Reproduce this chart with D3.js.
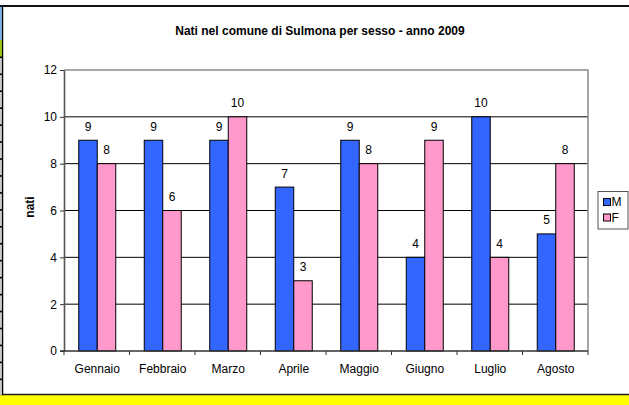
<!DOCTYPE html>
<html>
<head>
<meta charset="utf-8">
<script src="https://cdn.jsdelivr.net/npm/d3@7"></script>
<style>
  html, body { margin: 0; padding: 0; background: #fff; }
  svg { display: block; font-family: "Liberation Sans", Arial, sans-serif; }
</style>
</head>
<body>
<svg id="chart" width="629" height="405"></svg>
<script>
// Births in Sulmona by sex, 2009
const months = ["Gennaio", "Febbraio", "Marzo", "Aprile", "Maggio", "Giugno", "Luglio", "Agosto"];
const maschi = [9, 9, 9, 7, 9, 4, 10, 5];
const femmine = [8, 6, 10, 3, 8, 9, 4, 8];
const seriesNames = ["M", "F"];
const seriesColors = ["#3366ff", "#ff99cc"];
const yTicks = [0, 2, 4, 6, 8, 10, 12];
const titleText = "Nati nel comune di Sulmona per sesso - anno 2009";
const yLabel = "nati";

const svg = d3.select("#chart");
const W = 629, H = 405;

// worksheet frame around the chart object
svg.append("rect").attr("x", 0).attr("y", 0).attr("width", W).attr("height", H).attr("fill", "#fff");
svg.append("rect").attr("x", 0).attr("y", 395).attr("width", W).attr("height", 10).attr("fill", "#ffff00");
svg.append("line").attr("x1", 0).attr("x2", W).attr("y1", 394.5).attr("y2", 394.5)
  .attr("stroke", "#222").attr("stroke-width", 1.5);
svg.append("line").attr("x1", 0).attr("x2", W).attr("y1", 6).attr("y2", 6)
  .attr("stroke", "#111").attr("stroke-width", 2);
svg.append("rect").attr("x", 0).attr("y", 7).attr("width", 2).attr("height", 388).attr("fill", "#c8c8c8");
svg.append("rect").attr("x", 0).attr("y", 7).attr("width", 2).attr("height", 33).attr("fill", "#7fb3e6");
svg.append("rect").attr("x", 0).attr("y", 40).attr("width", 2).attr("height", 17).attr("fill", "#9cc312");
d3.range(20).forEach(i => {
  svg.append("rect").attr("x", 0).attr("y", 56.5 + i * 16.95).attr("width", 2).attr("height", 1.6).attr("fill", "#000");
});
svg.append("line").attr("x1", 2.6).attr("x2", 2.6).attr("y1", 6).attr("y2", 395)
  .attr("stroke", "#000").attr("stroke-width", 1.3);

// plot area
const plot = { left: 64, right: 588, top: 70, bottom: 351 };

const x0 = d3.scaleBand().domain(months).range([plot.left, plot.right]).paddingInner(0.435).paddingOuter(0.2175);
const x1 = d3.scaleBand().domain(seriesNames).range([0, x0.bandwidth()]);
const y = d3.scaleLinear().domain([0, 12]).range([plot.bottom, plot.top]);

// horizontal gridlines
svg.append("g").selectAll("line").data(yTicks.filter(t => t > 0 && t < 12)).join("line")
  .attr("x1", plot.left).attr("x2", plot.right)
  .attr("y1", d => y(d)).attr("y2", d => y(d))
  .attr("stroke", "#000").attr("stroke-width", 1);

// plot border (top and right)
svg.append("path")
  .attr("d", `M${plot.left},${y(12)}H${plot.right}V${plot.bottom}`)
  .attr("fill", "none").attr("stroke", "#8a8a8a").attr("stroke-width", 1.5);

// bars
const rows = months.map((m, i) => ({ month: m, values: [maschi[i], femmine[i]] }));
const groups = svg.append("g").selectAll("g").data(rows).join("g")
  .attr("transform", d => `translate(${x0(d.month)},0)`);
groups.selectAll("rect").data(d => d.values.map((v, k) => ({ key: seriesNames[k], v, k }))).join("rect")
  .attr("x", d => x1(d.key) + 0.5)
  .attr("y", d => y(d.v))
  .attr("width", x1.bandwidth())
  .attr("height", d => y(0) - y(d.v))
  .attr("fill", d => seriesColors[d.k])
  .attr("stroke", "#000").attr("stroke-width", 1);
groups.selectAll("text").data(d => d.values.map((v, k) => ({ key: seriesNames[k], v, k }))).join("text")
  .attr("x", d => x1(d.key) + x1.bandwidth() / 2 + 0.5)
  .attr("y", d => y(d.v) - 9.5)
  .attr("text-anchor", "middle")
  .attr("font-size", 12).attr("fill", "#000")
  .text(d => d.v);

// y axis
const yAxis = svg.append("g").attr("transform", `translate(${plot.left},0)`)
  .call(d3.axisLeft(y).tickValues(yTicks).tickSize(4).tickSizeOuter(0).tickPadding(3));
yAxis.select(".domain").attr("stroke", "#555").attr("stroke-width", 1.6);
yAxis.selectAll(".tick line").attr("stroke", "#333");
yAxis.selectAll(".tick text").attr("font-size", 12).attr("font-family", "Liberation Sans, Arial, sans-serif").attr("fill", "#000");

// x axis: ticks sit on category boundaries
const xAxisG = svg.append("g");
xAxisG.append("line").attr("x1", plot.left - 4).attr("x2", plot.right)
  .attr("y1", plot.bottom).attr("y2", plot.bottom).attr("stroke", "#333").attr("stroke-width", 1.3);
const step = x0.step();
const boundaries = d3.range(months.length + 1).map(i => x0(months[0]) - x0.paddingOuter() * step + i * step);
xAxisG.selectAll("line.tk").data(boundaries).join("line").attr("class", "tk")
  .attr("x1", d => d).attr("x2", d => d).attr("y1", plot.bottom).attr("y2", plot.bottom + 4)
  .attr("stroke", "#333");
xAxisG.selectAll("text").data(months).join("text")
  .attr("x", d => x0(d) + x0.bandwidth() / 2 + 0.5)
  .attr("y", 373)
  .attr("text-anchor", "middle").attr("font-size", 12).attr("fill", "#000")
  .text(d => d);

// title
svg.append("text").attr("x", 320).attr("y", 35).attr("text-anchor", "middle")
  .attr("font-size", 12).attr("font-weight", "bold").text(titleText);

// y axis title
svg.append("text").attr("transform", "translate(33.5,207) rotate(-90)")
  .attr("text-anchor", "middle").attr("font-size", 12).attr("font-weight", "bold").text(yLabel);

// legend
const lg = svg.append("g").attr("transform", "translate(598,191.5)");
lg.append("rect").attr("width", 30).attr("height", 37.5).attr("fill", "#fff")
  .attr("stroke", "#555").attr("stroke-width", 1);
seriesNames.forEach((s, i) => {
  lg.append("rect").attr("x", 5.5).attr("y", 7 + i * 15.5).attr("width", 7).attr("height", 7)
    .attr("fill", seriesColors[i]).attr("stroke", "#000").attr("stroke-width", 1);
  lg.append("text").attr("x", 13.5).attr("y", 14.8 + i * 15.5).attr("font-size", 12).text(s);
});
</script>
</body>
</html>
